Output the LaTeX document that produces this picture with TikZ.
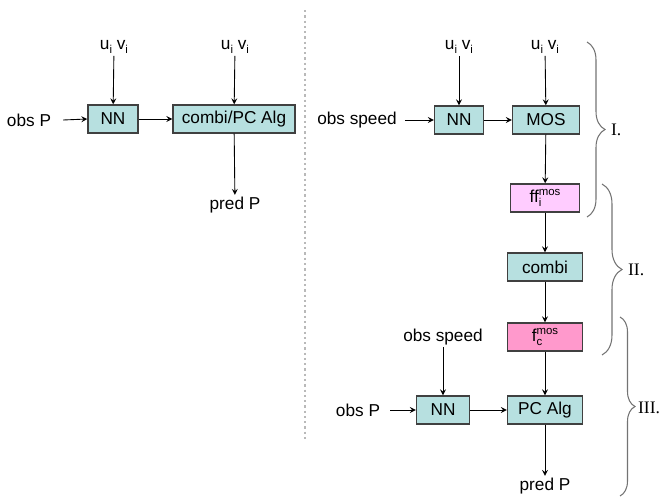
\documentclass[tikz,border=0pt]{standalone}
\usepackage{xcolor}
\usepackage{fontspec}
\setmainfont{Liberation Sans}
\newfontfamily\romfont{Liberation Serif}
\usetikzlibrary{decorations.pathreplacing}
\definecolor{boxcyan}{RGB}{183,224,224}
\definecolor{ffpink}{RGB}{255,204,255}
\definecolor{fcpink}{RGB}{255,153,204}
\newcommand{\lowidx}[1]{\raisebox{-0.5ex}{\fontsize{6.5}{7}\selectfont #1}}
\newcommand{\highidx}[1]{\raisebox{0.75ex}{\fontsize{6.5}{7}\selectfont #1}}
\tikzset{
  blk/.style={draw=black!75, line width=0.8pt, fill=boxcyan, minimum height=0.56cm, inner sep=1pt, font=\fontsize{9.8}{11}\selectfont},
  lbl/.style={inner sep=1pt, font=\fontsize{9.8}{11}\selectfont},
  flow/.style={->, >=stealth, line width=0.5pt},
  grp/.style={decorate, decoration={brace, amplitude=#1}, draw=black!55, line width=0.6pt},
  grplbl/.style={anchor=west, inner sep=1pt, font=\romfont\fontsize{10}{12}\selectfont},
}

\begin{document}
\begin{tikzpicture}[x=0.02cm, y=-0.02cm]
    \useasboundingbox (0,0) rectangle (663,497);
    % left scheme
    \node[lbl] (uvA) at (114,47) {u\lowidx{i} v\lowidx{i}};
    \node[lbl] (uvB) at (235,47) {u\lowidx{i} v\lowidx{i}};
    \node[lbl] (obsPA) at (29,120) {obs P};
    \node[blk, minimum width=1.0cm] (nnA) at (113,119) {NN};
    \node[blk, minimum width=2.44cm] (pcA) at (234,119) {combi/PC Alg};
    \node[lbl] (predA) at (235,205) {pred P};
    \draw[flow] (uvA) -- (nnA);
    \draw[flow] (uvB) -- (pcA);
    \draw[flow] (obsPA.east) ++(10,0) -- (nnA.west);
    \draw[flow] (nnA) -- (pcA);
    \draw[flow] (pcA) -- (predA);
    % divider
    \draw[gray!55, line width=1.3pt, dash pattern=on 1.3pt off 1.7pt] (305,10) -- (305,442);
    % right scheme, step I
    \node[lbl] (uvC) at (459,47) {u\lowidx{i} v\lowidx{i}};
    \node[lbl] (uvD) at (545,47) {u\lowidx{i} v\lowidx{i}};
    \node[lbl] (obsSpd) at (357,120) {obs speed};
    \node[blk, minimum width=0.98cm] (nnB) at (459,120) {NN};
    \node[blk, minimum width=1.34cm] (mos) at (546,120) {MOS};
    \node[blk, fill=ffpink, minimum width=1.38cm] (ffi) at (545,198) {ff\rlap{\lowidx{i}}\highidx{mos}};
    \draw[flow] (uvC) -- (nnB);
    \draw[flow] (uvD) -- (mos);
    \draw[flow] (obsSpd.east) ++(6,0) -- (nnB.west);
    \draw[flow] (nnB) -- (mos);
    \draw[flow] (mos) -- (ffi);
    % step II
    \node[blk, minimum width=1.5cm] (cmb) at (545,267) {combi};
    \node[blk, fill=fcpink, minimum width=1.5cm] (fc) at (545,337) {f\rlap{\lowidx{c}}\highidx{mos}};
    \draw[flow] (ffi) -- (cmb);
    \draw[flow] (cmb) -- (fc);
    % step III
    \node[lbl] (obsSpdB) at (443,337) {obs speed};
    \node[lbl] (obsPB) at (358,410) {obs P};
    \node[blk, minimum width=1.06cm] (nnC) at (443,410) {NN};
    \node[blk, minimum width=1.5cm] (pcB) at (545,410) {PC Alg};
    \node[lbl] (predB) at (545,486) {pred P};
    \draw[flow] (obsSpdB) -- (nnC);
    \draw[flow] (obsPB.east) ++(8,0) -- (nnC.west);
    \draw[flow] (nnC) -- (pcB);
    \draw[flow] (fc) -- (pcB);
    \draw[flow] (pcB) -- (predB);
    % braces
    \draw[grp=0.36cm] (587,42) -- (587,217);
    \draw[grp=0.4cm] (602,184) -- (602,355);
    \draw[grp=0.3cm] (620,317) -- (620,496);
    \node[grplbl] (stepI) at (609,130) {I.};
    \node[grplbl] (stepII) at (626,270) {II.};
    \node[grplbl] (stepIII) at (636,408) {III.};
\end{tikzpicture}
\end{document}
